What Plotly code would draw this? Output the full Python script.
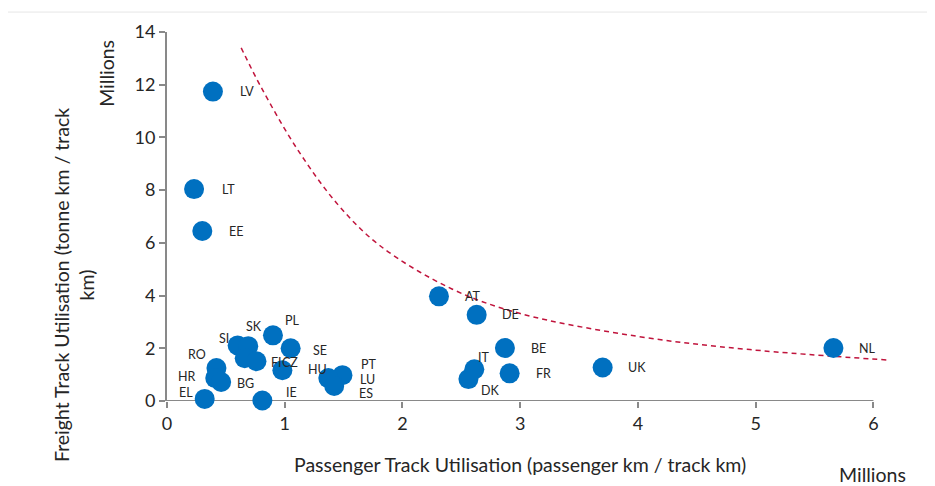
import plotly.graph_objects as go

# Track utilisation by country (values in millions)
countries = ["LV", "LT", "EE", "AT", "DE", "BE", "IT", "DK", "FR", "UK", "NL",
             "SI", "SK", "PL", "SE", "FI", "CZ", "HU",
             "RO", "HR", "BG", "EL", "IE", "PT", "LU", "ES"]
passenger = [0.39, 0.23, 0.30, 2.31, 2.63, 2.87, 2.61, 2.56, 2.91, 3.70, 5.66,
             0.60, 0.69, 0.90, 1.05, 0.66, 0.76, 0.98,
             0.42, 0.41, 0.46, 0.32, 0.81, 1.49, 1.37, 1.42]
freight = [11.74, 8.04, 6.45, 3.97, 3.27, 2.01, 1.20, 0.83, 1.05, 1.27, 2.01,
           2.11, 2.08, 2.49, 2.00, 1.62, 1.51, 1.17,
           1.25, 0.87, 0.72, 0.08, 0.02, 0.98, 0.87, 0.57]

# dashed reference curve
curve_x = [0.63, 0.80, 1.10, 1.45, 1.81, 2.42, 3.00, 4.00, 4.95, 6.14]
curve_y = [13.4, 11.9, 9.6, 7.46, 5.89, 4.25, 3.32, 2.45, 1.95, 1.55]

x_ticks = [0, 1, 2, 3, 4, 5, 6]
y_ticks = [0, 2, 4, 6, 8, 10, 12, 14]

# label offsets in pixels (dx, dy up); default is to the right of the dot
label_offsets = {"IT": (10, 12), "DK": (22, -11), "SI": (-14, 7), "SK": (6, 20),
                 "PL": (20, 15), "SE": (29, -2), "FI": (32, -4), "CZ": (34, -1),
                 "HU": (35, 1), "RO": (-19, 14), "HR": (-28, 2), "EL": (-19, 6),
                 "BG": (24, -1), "IE": (29, 8), "PT": (27, 11), "LU": (39, -1),
                 "ES": (32, -8)}

FONT = "Lato, 'Open Sans', sans-serif"
AXIS_GREY = "#898989"

fig = go.Figure()

fig.add_trace(go.Scatter(
    x=curve_x, y=curve_y, mode="lines", line_shape="spline",
    line=dict(color="#C0143C", width=1.5, dash="5px,4px"),
    hoverinfo="skip", showlegend=False))

fig.add_trace(go.Scatter(
    x=passenger, y=freight, mode="markers", text=countries,
    marker=dict(size=20, color="#0070C0"),
    cliponaxis=False, showlegend=False))

for c, px, fy in zip(countries, passenger, freight):
    dx, dy = label_offsets.get(c, (34, 0))
    fig.add_annotation(x=px, y=fy, text=c, showarrow=False,
                       xshift=dx, yshift=dy,
                       font=dict(family=FONT, size=12.5, color="#262626"))

# x axis line only up to the last tick
fig.add_shape(type="line", x0=x_ticks[0], x1=x_ticks[-1], y0=0, y1=0,
              line=dict(color=AXIS_GREY, width=2), layer="below")

# faint chart frame
fig.add_shape(type="rect", xref="paper", yref="paper",
              x0=-0.222, x1=1.1, y0=-0.3, y1=1.054,
              line=dict(color="#e6e6e6", width=1))

ann_font = dict(family=FONT, size=19.5, color="#262626")
titles = [
    (-0.128, 0.313, "Freight Track Utilisation (tonne km / track<br>km)", -90),
    (-0.082, 0.887, "Millions", -90),
    (0.4833, -0.1725, "Passenger Track Utilisation (passenger km / track km)", 0),
    (0.9666, -0.1995, "Millions", 0),
]
for tx, ty, ttext, ang in titles:
    fig.add_annotation(xref="paper", yref="paper", x=tx, y=ty, text=ttext,
                       textangle=ang, showarrow=False, xanchor="center",
                       yanchor="middle", font=ann_font)

fig.update_xaxes(range=[0, 6.2], tickvals=x_ticks, showgrid=False, zeroline=False,
                 showline=False, ticks="outside", ticklen=6, tickwidth=2,
                 tickcolor=AXIS_GREY,
                 tickfont=dict(family=FONT, size=18, color="#262626"))
fig.update_yaxes(range=[0, 14], tickvals=y_ticks, showgrid=False, zeroline=False,
                 showline=True, linecolor=AXIS_GREY, linewidth=2,
                 ticks="outside", ticklen=6, tickwidth=2, tickcolor=AXIS_GREY,
                 tickfont=dict(family=FONT, size=18, color="#262626"))

# page body adds an 8px margin, so the figure is 8px smaller each way
fig.update_layout(width=927, height=478, plot_bgcolor="white", paper_bgcolor="white",
                  margin=dict(l=159, r=38, t=22, b=85), showlegend=False,
                  font=dict(family=FONT))

fig.write_html("out.html")
